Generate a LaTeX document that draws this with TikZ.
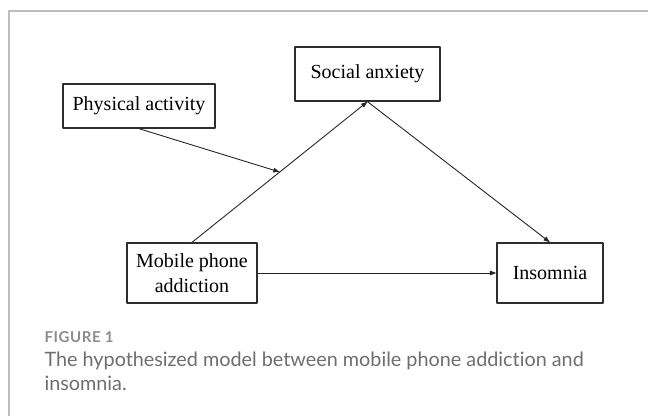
\documentclass[tikz,border=0pt]{standalone}
\usepackage{fontspec}
\setmainfont{Liberation Serif}
\newfontfamily\capfont[RawFeature={-liga;-dlig;-calt}]{Lato}
\newfontfamily\figfont[LetterSpace=4]{Lato}
\usetikzlibrary{arrows.meta,calc}
\definecolor{boxline}{HTML}{2E2E2E}
\definecolor{framegray}{HTML}{BDBDBD}
\definecolor{captiongray}{HTML}{6E6E6E}
\definecolor{labelgray}{HTML}{8C8C8C}

\begin{document}
\begin{tikzpicture}[x=1pt, y=-1pt, line width=1pt, line join=round, >={Triangle[length=6.5pt,width=4.5pt]},
  varbox/.style={draw=boxline, line width=1.3pt, inner sep=0pt, align=center, font=\fontsize{20}{25}\selectfont},
  link/.style={->, draw=black!85, line width=0.9pt},
  captext/.style={anchor=base west, inner sep=0pt, text=captiongray, font=\capfont\fontsize{19.8}{24}\selectfont}]
  \useasboundingbox (0,0) rectangle (648,416);
  \draw[framegray, line width=1.3pt] (9,416) -- (9,11) -- (648,11);
  \node[varbox, minimum width=145pt, minimum height=54pt] (social) at (367.5,74) {Social anxiety};
  \node[varbox, minimum width=152pt, minimum height=44pt] (activ) at (139,106) {Physical activity};
  \node[varbox, minimum width=130pt, minimum height=60pt] (phone) at (192,273) {Mobile phone\\addiction};
  \node[varbox, minimum width=106pt, minimum height=60pt] (insom) at (550,273) {Insomnia};
  \coordinate (moder) at ($(phone.north)!0.5!(social.south)$);
  \draw[link] (phone.north) -- (social.south);
  \draw[link] (social.south) -- (insom.north);
  \draw[link] (phone.east) -- (insom.west);
  \draw[link] (activ.south) -- (moder);
  \node[captext, text=labelgray, font=\figfont\bfseries\fontsize{15}{18}\selectfont] (figlabel) at (44,342) {FIGURE 1};
  \node[captext] (capline) at (44,366) {The hypothesized model between mobile phone addiction and};
  \node[captext] (capend) at (44,390) {insomnia.};
\end{tikzpicture}
\end{document}
